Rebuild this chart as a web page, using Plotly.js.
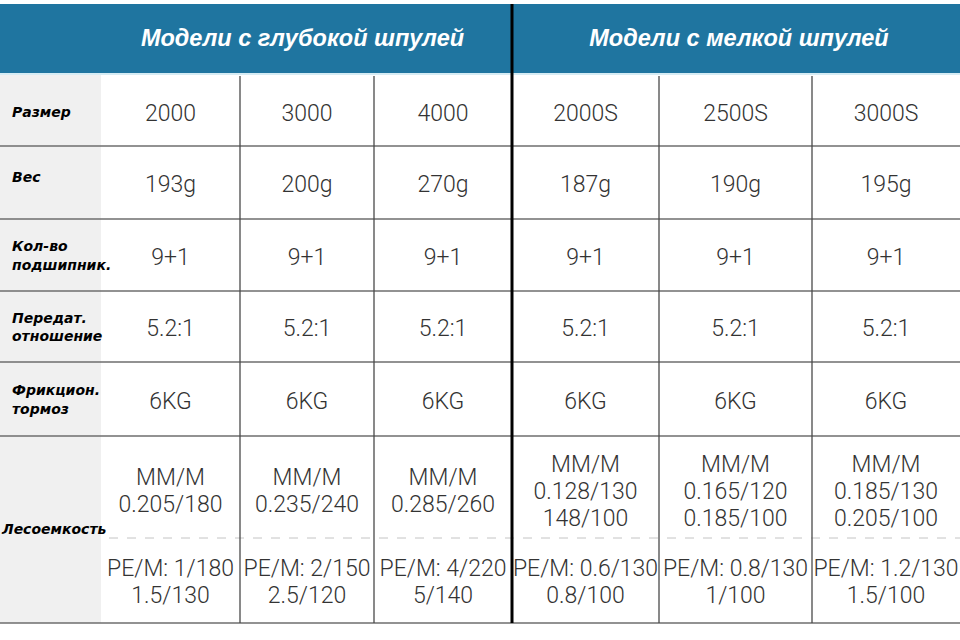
<!DOCTYPE html>
<html>
<head>
<meta charset="utf-8">
<script src="https://cdn.plot.ly/plotly-3.0.1.min.js"></script>
<style>html,body{margin:0;padding:0;background:#fff;}#chart{width:960px;height:640px;}</style>
</head>
<body>
<div id="chart"></div>
<script>
// ---- data ----
const groups = ['Модели с глубокой шпулей', 'Модели с мелкой шпулей'];
const groupSizes = [3, 3];
const models = ['2000', '3000', '4000', '2000S', '2500S', '3000S'];
const rowLabels = ['Размер', 'Вес', 'Кол-во<br>подшипник.', 'Передат.<br>отношение', 'Фрикцион.<br>тормоз', 'Лесоемкость'];
const weights = ['193g', '200g', '270g', '187g', '190g', '195g'];
const bearings = ['9+1', '9+1', '9+1', '9+1', '9+1', '9+1'];
const gearRatio = ['5.2:1', '5.2:1', '5.2:1', '5.2:1', '5.2:1', '5.2:1'];
const dragPower = ['6KG', '6KG', '6KG', '6KG', '6KG', '6KG'];
const monoCapacity = [
  'MM/M<br>0.205/180',
  'MM/M<br>0.235/240',
  'MM/M<br>0.285/260',
  'MM/M<br>0.128/130<br>148/100',
  'MM/M<br>0.165/120<br>0.185/100',
  'MM/M<br>0.185/130<br>0.205/100'
];
const braidCapacity = [
  'PE/M: 1/180<br>1.5/130',
  'PE/M: 2/150<br>2.5/120',
  'PE/M: 4/220<br>5/140',
  'PE/M: 0.6/130<br>0.8/100',
  'PE/M: 0.8/130<br>1/100',
  'PE/M: 1.2/130<br>1.5/100'
];

// ---- layout geometry (pixels) ----
const colEdges = [101, 240, 374, 512, 659, 812, 960];
const rowEdges = [76, 146, 219, 291, 362, 436, 623];
const capSplit = 538;
const headerTop = 4, headerBottom = 73;
const lineStep = 27;
const textShift = 3;

const colCenter = i => (colEdges[i] + colEdges[i + 1]) / 2;
const rowCenter = r => (rowEdges[r] + rowEdges[r + 1]) / 2 + 1;

// value text points
const vx = [], vy = [], vt = [];
const singleRows = [models, weights, bearings, gearRatio, dragPower];
singleRows.forEach((arr, r) => {
  arr.forEach((t, i) => { vx.push(colCenter(i)); vy.push(rowCenter(r) + textShift); vt.push(t); });
});
function addBlock(arr, center) {
  arr.forEach((t, i) => {
    const lines = t.split('<br>');
    lines.forEach((ln, k) => {
      vx.push(colCenter(i));
      vy.push(center + textShift + (k - (lines.length - 1) / 2) * lineStep);
      vt.push(ln);
    });
  });
}
addBlock(monoCapacity, (rowEdges[5] + capSplit) / 2 + 3);
addBlock(braidCapacity, (capSplit + rowEdges[6]) / 2);

// label points
const lx = [], ly = [];
rowLabels.forEach((l, r) => {
  if (r < 5) { lx.push(12); ly.push(rowCenter(r) + (r === 1 ? -5 : 1)); }
  else { lx.push(2); ly.push(530); }
});

// header points
const hx = [], hy = [];
let start = 0;
groups.forEach((g, gi) => {
  const a = colEdges[start], b = colEdges[start + groupSizes[gi]];
  hx.push((a + b) / 2 - (gi === 0 ? 4 : -3));
  hy.push((headerTop + headerBottom) / 2 + 2);
  start += groupSizes[gi];
});

const traces = [
  {
    type: 'scatter', mode: 'text', x: vx, y: vy, text: vt,
    textposition: 'middle center', hoverinfo: 'skip',
    textfont: { family: 'Roboto, "Liberation Sans", sans-serif', size: 23, color: '#333', weight: 300 }
  },
  {
    type: 'scatter', mode: 'text', x: lx, y: ly, text: rowLabels,
    textposition: 'middle right', hoverinfo: 'skip',
    textfont: { family: '"DejaVu Sans", sans-serif', size: 14, color: '#000', weight: 'bold', style: 'italic' }
  },
  {
    type: 'scatter', mode: 'text', x: hx, y: hy, text: groups,
    textposition: 'middle center', hoverinfo: 'skip',
    textfont: { family: '"Liberation Sans", Arial, sans-serif', size: 23.5, color: '#fff', weight: 'bold', style: 'italic' }
  }
];

const shapes = [];
// header band
shapes.push({ type: 'rect', xref: 'x', yref: 'y', x0: 0, x1: 960, y0: headerTop, y1: headerBottom, fillcolor: '#1f75a0', line: { width: 0 }, layer: 'below' });
shapes.push({ type: 'line', xref: 'x', yref: 'y', x0: 0, x1: 960, y0: headerBottom + 1, y1: headerBottom + 1, line: { color: '#d6ecf4', width: 2 }, layer: 'below' });
// label column
shapes.push({ type: 'rect', xref: 'x', yref: 'y', x0: 0, x1: colEdges[0], y0: rowEdges[0] - 1, y1: rowEdges[6], fillcolor: '#f0f0f0', line: { width: 0 }, layer: 'below' });
// horizontal row lines
rowEdges.slice(1).forEach(y => {
  shapes.push({ type: 'line', xref: 'x', yref: 'y', x0: 0, x1: 960, y0: y, y1: y, line: { color: '#6e6e6e', width: 1.5 }, layer: 'below' });
});
// dashed split
shapes.push({ type: 'line', xref: 'x', yref: 'y', x0: colEdges[0] + 8, x1: 960, y0: capSplit, y1: capSplit, line: { color: '#c4c4c4', width: 1, dash: 'dash' }, layer: 'below' });
// vertical thin lines
[1, 2, 4, 5].forEach(i => {
  shapes.push({ type: 'line', xref: 'x', yref: 'y', x0: colEdges[i], x1: colEdges[i], y0: rowEdges[0], y1: rowEdges[6], line: { color: '#4a4a4a', width: 1.3 }, layer: 'below' });
});
// thick group divider
shapes.push({ type: 'line', xref: 'x', yref: 'y', x0: colEdges[3], x1: colEdges[3], y0: headerTop, y1: rowEdges[6], line: { color: '#000', width: 3 }, layer: 'below' });

const layout = {
  width: 960, height: 640,
  margin: { l: 0, r: 0, t: 0, b: 0, pad: 0 },
  paper_bgcolor: '#fff', plot_bgcolor: '#fff',
  showlegend: false,
  xaxis: { range: [0, 960], visible: false, fixedrange: true },
  yaxis: { range: [640, 0], visible: false, fixedrange: true },
  shapes: shapes
};

Plotly.newPlot('chart', traces, layout, { staticPlot: true, displayModeBar: false });
</script>
</body>
</html>
